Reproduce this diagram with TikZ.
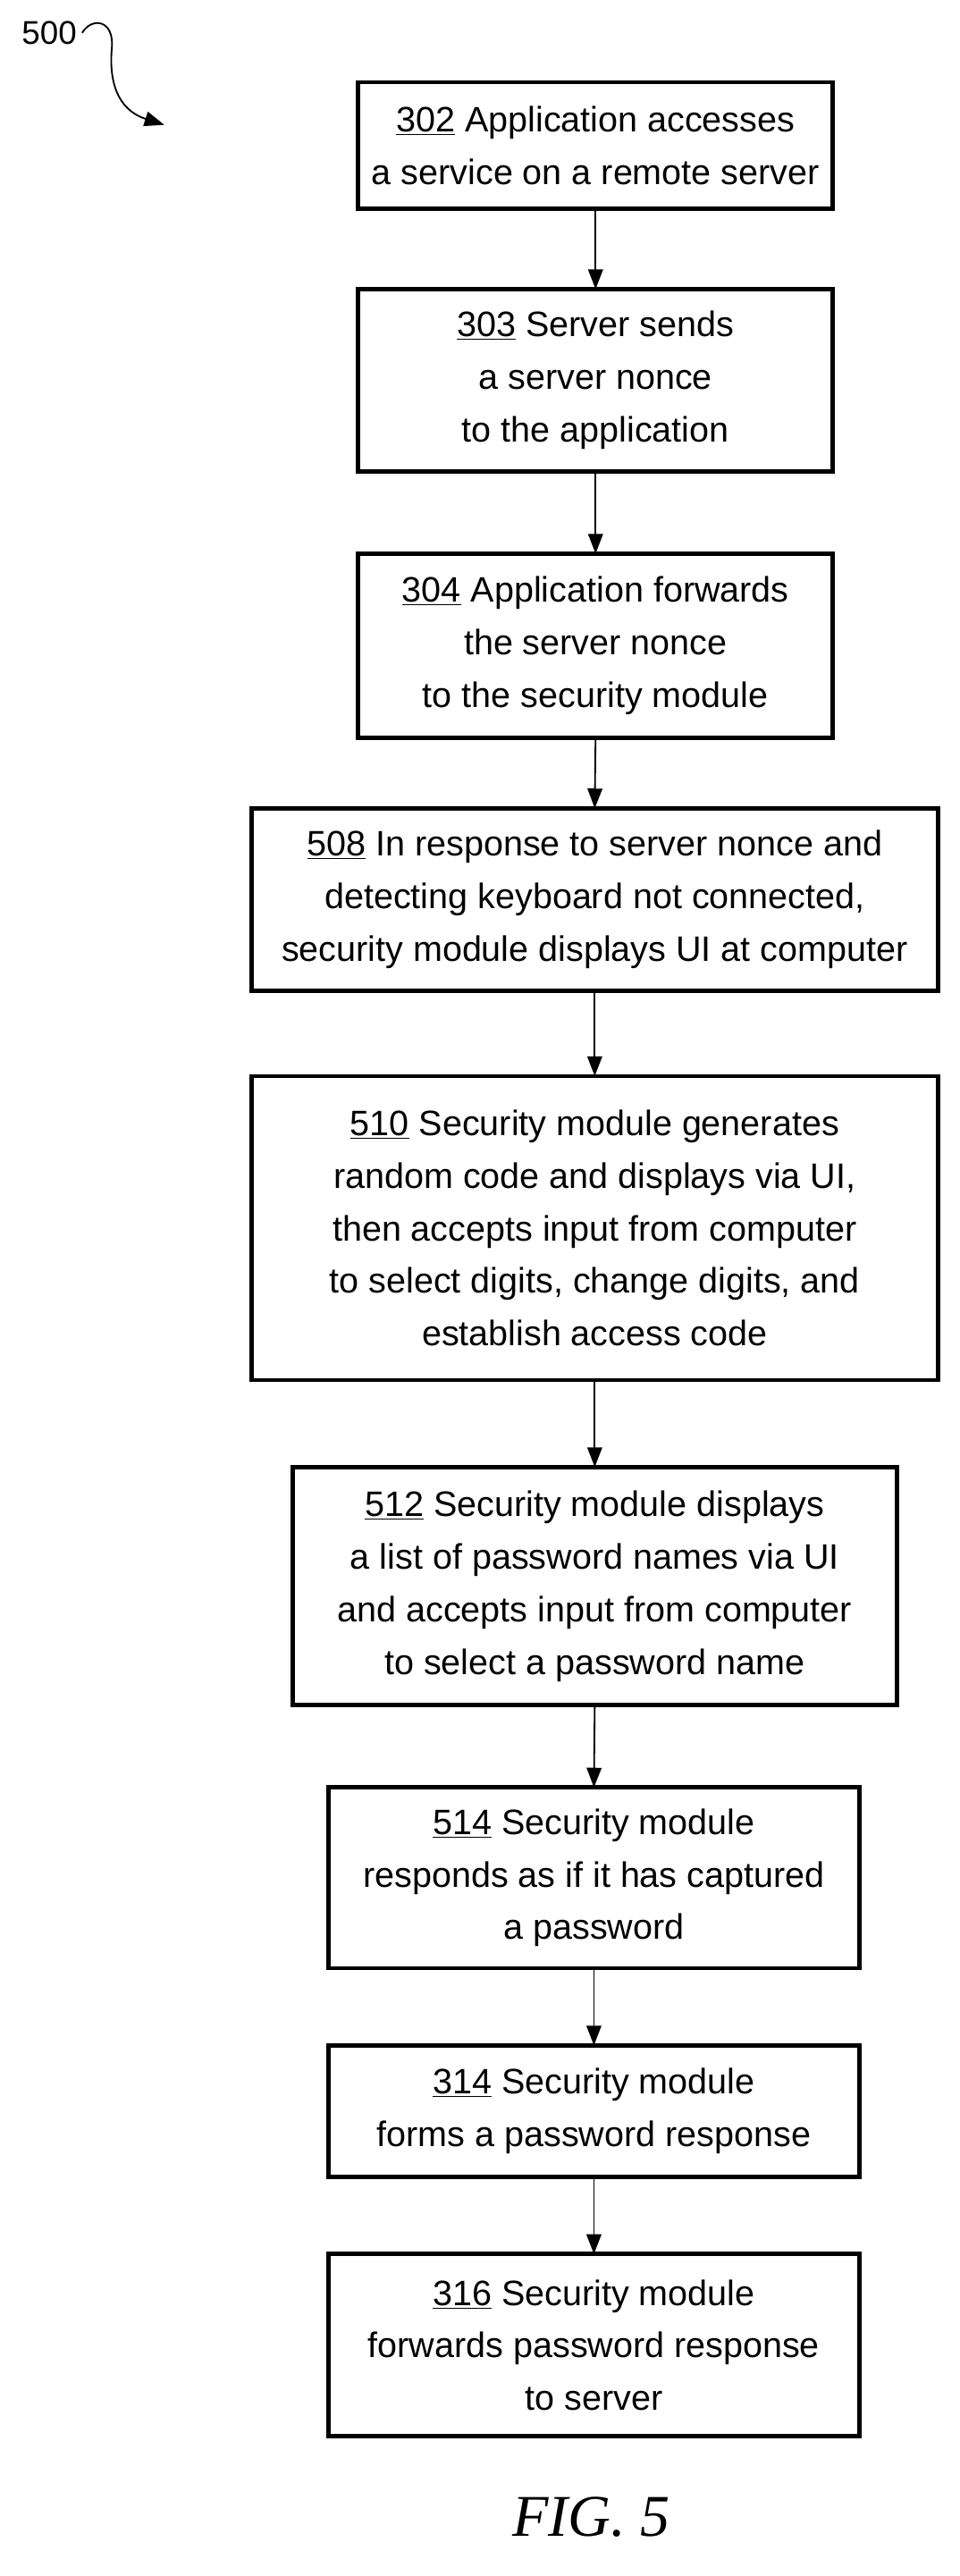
\documentclass[tikz,border=0pt]{standalone}
\usepackage{fontspec}
\setmainfont{Liberation Sans}
\usetikzlibrary{arrows.meta}
\begin{document}
\begin{tikzpicture}[x=1pt,y=-1pt,
  arr/.style={line width=1pt,-{Triangle[length=12pt,width=9pt]}}]
\useasboundingbox (0,0) rectangle (584,1568);
\newcommand{\bx}[6]{\draw[line width=2.6pt] (#2,#3) rectangle (#4,#5);
  \node[align=center,font=\fontsize{21.5}{32}\selectfont] (#1) at ({(#2+#4)/2},{(#3+#5)/2}) {#6};
  \coordinate (#1t) at ({(#2+#4)/2},#3); \coordinate (#1b) at ({(#2+#4)/2},#5);}
\bx{a}{218}{50}{507}{127}{\underline{302} Application accesses\\a service on a remote server}
\bx{b}{218}{176}{507}{287}{\underline{303} Server sends\\a server nonce\\to the application}
\bx{c}{218}{337}{507}{449}{\underline{304} Application forwards\\the server nonce\\to the security module}
\bx{d}{153}{492}{571}{603}{\underline{508} In response to server nonce and\\detecting keyboard not connected,\\security module displays UI at computer}
\bx{e}{153}{655}{571}{840}{\underline{510} Security module generates\\random code and displays via UI,\\then accepts input from computer\\to select digits, change digits, and\\establish access code}
\bx{f}{178}{893}{546}{1038}{\underline{512} Security module displays\\a list of password names via UI\\and accepts input from computer\\to select a password name}
\bx{g}{200}{1088}{523}{1198}{\underline{514} Security module\\responds as if it has captured\\a password}
\bx{h}{200}{1245}{523}{1325}{\underline{314} Security module\\forms a password response}
\bx{i}{200}{1372}{523}{1483}{\underline{316} Security module\\forwards password response\\to server}
\draw[arr] (ab) -- (bt);
\draw[arr] (bb) -- (ct);
\draw[arr] (cb) -- (dt);
\draw[arr] (db) -- (et);
\draw[arr] (eb) -- (ft);
\draw[arr] (fb) -- (gt);
\draw[arr] (gb) -- (ht);
\draw[arr] (hb) -- (it);
\node[font=\fontsize{20}{24}\selectfont] (n500) at (30,20) {500};
\coordinate (c500) at (100,76);
\draw[arr] (50,20) .. controls (56,10) and (70,12) .. (68,30) .. controls (66,55) and (75,68) .. (c500);
\node[font=\fontsize{36}{40}\selectfont] (fig) at (360,1532) {\fontspec{Liberation Serif}\itshape FIG. 5};
\end{tikzpicture}
\end{document}
